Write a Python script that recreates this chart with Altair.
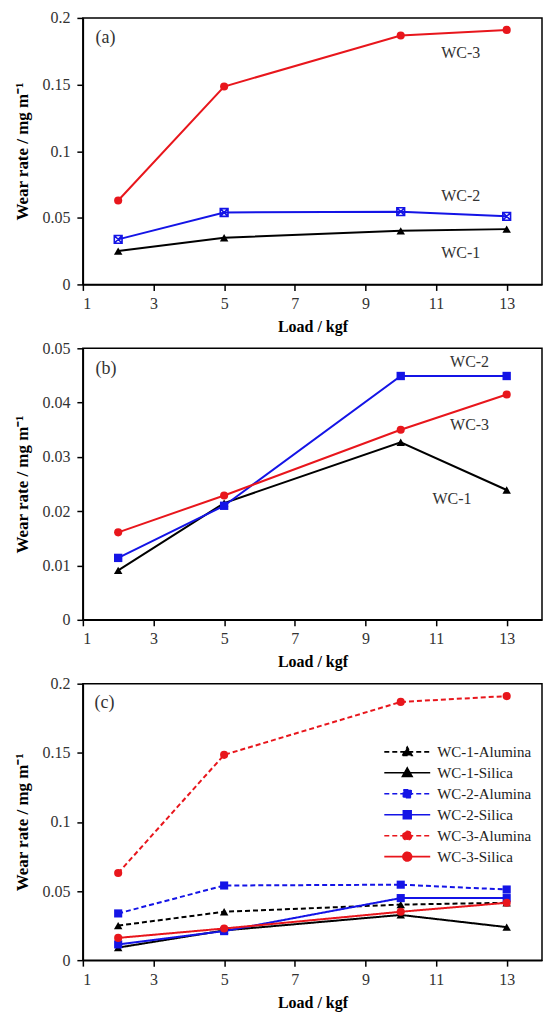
import altair as alt
import pandas as pd

# ---------------- data ----------------
load_kgf = [2, 5, 10, 13]

wc1_alumina = [0.0250, 0.0350, 0.0402, 0.0415]
wc2_alumina = [0.0338, 0.0540, 0.0546, 0.0511]
wc3_alumina = [0.0630, 0.1485, 0.1868, 0.1910]

wc1_silica = [0.0091, 0.0215, 0.0327, 0.0239]
wc2_silica = [0.0114, 0.0210, 0.0449, 0.0449]
wc3_silica = [0.0161, 0.0229, 0.0350, 0.0415]

grades = ["WC-1", "WC-2", "WC-3"]
grade_colors = ["#000000", "#1414e6", "#e8161c"]
series_c = ["WC-1-Alumina", "WC-1-Silica", "WC-2-Alumina", "WC-2-Silica",
            "WC-3-Alumina", "WC-3-Silica"]
series_colors = ["#000000", "#000000", "#1414e6", "#1414e6", "#e8161c", "#e8161c"]
series_dash = [[5, 3], [1, 0], [5, 3], [1, 0], [5, 3], [1, 0]]

x_ticks = [1, 3, 5, 7, 9, 11, 13]
y_ticks_ac = [0, 0.05, 0.1, 0.15, 0.2]
y_ticks_b = [0, 0.01, 0.02, 0.03, 0.04, 0.05]

# in-plot labels (text, load, wear rate)
labels_a = [("WC-3", 11.7, 0.174), ("WC-2", 11.7, 0.0667), ("WC-1", 11.7, 0.0239)]
labels_b = [("WC-2", 11.95, 0.0475), ("WC-3", 11.95, 0.0358), ("WC-1", 11.45, 0.0222)]
panel_tags = [("(a)", 1.36, 0.185), ("(b)", 1.36, 0.0462), ("(c)", 1.33, 0.186)]

FONT = "Liberation Serif"


def long_df(values_by_grade, medium):
    rows = []
    for g, vals in zip(grades, values_by_grade):
        for x, v in zip(load_kgf, vals):
            rows.append({"load": x, "rate": v, "grade": g,
                         "series": f"{g}-{medium}", "medium": medium})
    return rows


df_a = pd.DataFrame(long_df([wc1_alumina, wc2_alumina, wc3_alumina], "Alumina"))
df_b = pd.DataFrame(long_df([wc1_silica, wc2_silica, wc3_silica], "Silica"))
df_c = pd.DataFrame(long_df([wc1_alumina, wc2_alumina, wc3_alumina], "Alumina")
                    + long_df([wc1_silica, wc2_silica, wc3_silica], "Silica"))

xscale = alt.Scale(domain=[1, 14], nice=False, zero=False)


def x_enc():
    return alt.X("load:Q", scale=xscale,
                 axis=alt.Axis(values=x_ticks, title="Load / kgf", format="d"))


def y_enc(top, ticks):
    return alt.Y("rate:Q", scale=alt.Scale(domain=[0, top], nice=False),
                 axis=alt.Axis(values=ticks, title="Wear rate / mg m⁻¹", format="~g"))


grade_scale = alt.Scale(domain=grades, range=grade_colors)
series_scale = alt.Scale(domain=series_c, range=series_colors)
dash_scale = alt.Scale(domain=series_c, range=series_dash)

shape_for = {"WC-1": ("triangle-up", 72), "WC-2": ("square", 62), "WC-3": ("circle", 66)}
XBOX = "M-1,-1H1V1H-1Z M-1,-1L1,1 M1,-1L-1,1"


def points(df, top, ticks, color_field, cscale, xbox=False, sq_size=62):
    layers = []
    for g in grades:
        shp, size = shape_for[g]
        if g == "WC-2":
            size = sq_size
        base = alt.Chart(df).transform_filter(alt.datum.grade == g)
        if g == "WC-2" and xbox:
            mk = base.mark_point(shape=XBOX, filled=False, size=60, strokeWidth=1.6, opacity=1)
        else:
            mk = base.mark_point(shape=shp, filled=True, size=size, opacity=1)
        layers.append(mk.encode(
            x=x_enc(), y=y_enc(top, ticks),
            color=alt.Color(f"{color_field}:N", scale=cscale, legend=None)))
    return layers


def text_layer(rows, top, size, align):
    d = pd.DataFrame(rows, columns=["label", "load", "rate"])
    return alt.Chart(d).mark_text(font=FONT, fontSize=size, align=align,
                                  baseline="middle", color="#333").encode(
        x=alt.X("load:Q", scale=xscale),
        y=alt.Y("rate:Q", scale=alt.Scale(domain=[0, top], nice=False)),
        text="label:N")


W = 460

# ---------- panel (a) ----------
line_a = alt.Chart(df_a).mark_line(strokeWidth=2).encode(
    x=x_enc(), y=y_enc(0.2, y_ticks_ac),
    color=alt.Color("grade:N", scale=grade_scale, legend=None), detail="grade:N")
pa = alt.layer(line_a, *points(df_a, 0.2, y_ticks_ac, "grade", grade_scale, xbox=True),
               text_layer(labels_a, 0.2, 16, "center"),
               text_layer([panel_tags[0]], 0.2, 18, "left")
               ).properties(width=W, height=267)

# ---------- panel (b) ----------
line_b = alt.Chart(df_b).mark_line(strokeWidth=2).encode(
    x=x_enc(), y=y_enc(0.05, y_ticks_b),
    color=alt.Color("grade:N", scale=grade_scale, legend=None), detail="grade:N")
pb = alt.layer(line_b, *points(df_b, 0.05, y_ticks_b, "grade", grade_scale, sq_size=70),
               text_layer(labels_b, 0.05, 16, "center"),
               text_layer([panel_tags[1]], 0.05, 18, "left")
               ).properties(width=W, height=272)

# ---------- panel (c) ----------
# legend glyphs: a line segment with the marker in its middle (unit box -1..1)
TRI = "M-1,0H1M-0.21,0.16L0,-0.21L0.21,0.16Z"
SQR = "M-1,0H1M-0.17,-0.17H0.17V0.17H-0.17Z"
CIR = "M-1,0H1M-0.19,0A0.19,0.19 0 1 0 0.19,0A0.19,0.19 0 1 0 -0.19,0Z"
leg_paths = [TRI, TRI, SQR, SQR, CIR, CIR]
LEG_SIZE = 2116
leg_def = alt.Legend(title=" ", titleFontSize=1, titlePadding=47,
                     orient="top-right", offset=10,
                     labelFont=FONT, labelFontSize=15, labelColor="#222",
                     symbolSize=LEG_SIZE, symbolStrokeWidth=1.6, clipHeight=20.6,
                     rowPadding=0, labelOffset=6, padding=0, symbolOpacity=1)

line_c = alt.Chart(df_c).mark_line(strokeWidth=2).encode(
    x=x_enc(), y=y_enc(0.2, y_ticks_ac),
    color=alt.Color("series:N", scale=series_scale, legend=leg_def),
    strokeDash=alt.StrokeDash("series:N", scale=dash_scale, legend=leg_def),
    detail="series:N")

legend_layer = alt.Chart(df_c).mark_point(
    filled=True, size=LEG_SIZE, opacity=0, strokeWidth=1.6).encode(
    x=x_enc(), y=y_enc(0.2, y_ticks_ac),
    color=alt.Color("series:N", scale=series_scale, legend=leg_def),
    stroke=alt.Stroke("series:N", scale=alt.Scale(domain=series_c, range=series_colors), legend=leg_def),
    shape=alt.Shape("series:N", scale=alt.Scale(domain=series_c, range=leg_paths), legend=leg_def),
    strokeDash=alt.StrokeDash("series:N", scale=dash_scale, legend=leg_def))

pc = alt.layer(line_c, *points(df_c, 0.2, y_ticks_ac, "series", series_scale, sq_size=66),
               text_layer([panel_tags[2]], 0.2, 18, "left"),
               legend_layer
               ).properties(width=W, height=277)

chart = alt.vconcat(pa, pb, pc, spacing=64, bounds="flush").resolve_scale(
    color="independent", stroke="independent", shape="independent",
    strokeDash="independent"
).properties(
    padding={"left": 5, "top": 0, "right": 0, "bottom": 0}
).configure_view(stroke="black", strokeWidth=1.5).configure_axis(
    grid=False, domainColor="black", domainWidth=1.5, tickColor="black", tickWidth=1.5,
    tickSize=6, labelFont=FONT, labelFontSize=16, labelColor="#333",
    titleFont=FONT, titleFontSize=16, titleFontWeight="bold", titleColor="black"
).configure_axisX(labelPadding=5, titlePadding=7).configure_axisY(
    labelPadding=7, titlePadding=10, titleFontSize=17)

chart.save("out.html", embed_options={"renderer": "svg", "actions": False})
